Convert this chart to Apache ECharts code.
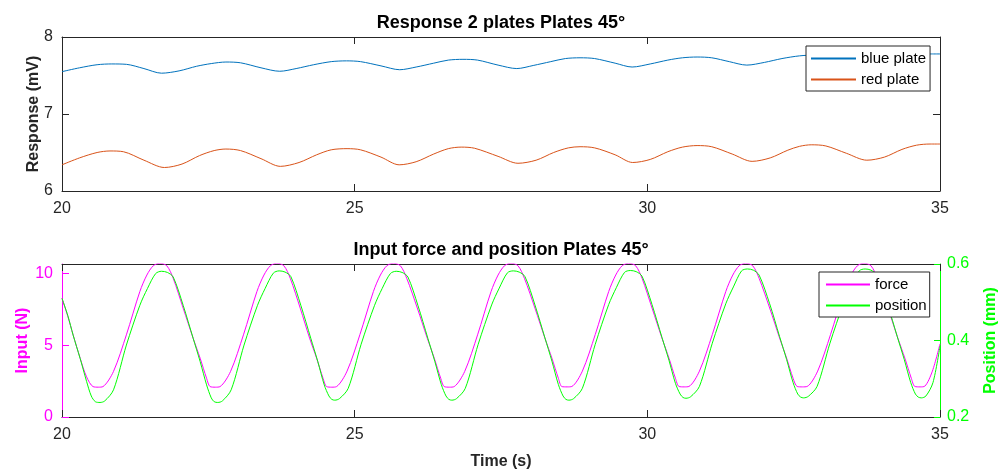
<!DOCTYPE html>
<html><head><meta charset="utf-8">
<script src="https://cdn.jsdelivr.net/npm/echarts@6/dist/echarts.min.js"></script>
<style>html,body{margin:0;padding:0;background:#fff}#c{width:1002px;height:473px}</style>
</head><body><div id="c"></div>
<script>
// ---- data ----
const xTicks = [20, 25, 30, 35];
const titles = ['Response 2 plates Plates 45\u00b0', 'Input force and position Plates 45\u00b0'];
const seriesNames = ['blue plate', 'red plate', 'force', 'position'];

const blueT = [20.00,20.30,20.60,20.85,21.10,21.40,21.70,22.00,22.30,22.55,22.80,23.05,23.40,23.72,24.00,24.30,24.60,24.86,25.10,25.45,25.77,26.05,26.35,26.60,26.85,27.10,27.45,27.77,28.05,28.35,28.60,28.85,29.10,29.45,29.74,30.05,30.35,30.60,30.85,31.10,31.40,31.70,32.00,32.30,32.60,32.85,33.10,33.40,33.70,34.00,34.30,34.60,34.85,35.00];
const blueV = [7.55,7.60,7.64,7.65,7.645,7.59,7.53,7.56,7.62,7.655,7.675,7.665,7.60,7.555,7.59,7.64,7.68,7.69,7.68,7.625,7.575,7.61,7.66,7.70,7.71,7.70,7.635,7.59,7.63,7.68,7.72,7.73,7.72,7.66,7.61,7.65,7.70,7.73,7.74,7.73,7.68,7.635,7.67,7.72,7.755,7.765,7.75,7.70,7.65,7.69,7.74,7.77,7.78,7.78];

const redT = [20.00,20.30,20.60,20.82,21.05,21.40,21.75,22.05,22.35,22.60,22.80,23.05,23.40,23.73,24.05,24.35,24.60,24.87,25.10,25.45,25.76,26.05,26.35,26.60,26.82,27.05,27.45,27.79,28.10,28.40,28.65,28.85,29.10,29.45,29.75,30.05,30.35,30.60,30.85,31.10,31.45,31.79,32.10,32.40,32.60,32.80,33.05,33.40,33.75,34.05,34.35,34.60,34.83,35.00];
const redV = [6.34,6.43,6.50,6.52,6.51,6.40,6.305,6.35,6.46,6.525,6.545,6.525,6.42,6.32,6.37,6.47,6.535,6.55,6.535,6.44,6.34,6.38,6.48,6.55,6.57,6.555,6.45,6.36,6.40,6.50,6.56,6.575,6.56,6.47,6.37,6.41,6.51,6.57,6.59,6.575,6.48,6.385,6.43,6.53,6.58,6.60,6.585,6.49,6.40,6.44,6.54,6.595,6.61,6.61];

const forceT = [20.00,20.10,20.19,20.31,20.42,20.53,20.62,20.70,20.88,21.10,21.33,21.45,21.56,21.67,21.79,21.90,22.07,22.24,22.36,22.47,22.53,22.62,22.70,
22.88,23.10,23.33,23.45,23.56,23.67,23.79,23.90,24.07,24.23,24.35,24.46,24.52,24.61,24.69,
24.87,25.09,25.32,25.44,25.55,25.66,25.78,25.89,26.07,26.24,26.36,26.47,26.53,26.62,26.70,
26.88,27.10,27.33,27.45,27.56,27.67,27.79,27.90,28.08,28.25,28.37,28.48,28.54,28.63,28.71,
28.89,29.11,29.34,29.46,29.57,29.68,29.80,29.91,30.08,30.25,30.37,30.48,30.54,30.63,30.71,
30.89,31.11,31.34,31.46,31.57,31.68,31.80,31.91,32.09,32.26,32.38,32.49,32.56,32.65,32.73,
32.91,33.13,33.36,33.48,33.59,33.70,33.82,33.93,34.11,34.28,34.40,34.51,34.57,34.66,34.74,34.87,35.00];
const forceV = [8.28,7.00,5.73,4.10,2.80,2.12,2.08,2.12,3.18,5.73,8.75,9.90,10.55,10.72,10.55,9.67,7.59,5.50,4.10,2.70,2.12,2.08,2.12,
3.18,5.73,8.75,9.90,10.55,10.72,10.55,9.67,7.59,5.50,4.10,2.70,2.12,2.08,2.12,
3.20,5.75,8.75,9.90,10.55,10.72,10.55,9.67,7.60,5.50,4.10,2.70,2.12,2.08,2.12,
3.18,5.73,8.75,9.90,10.55,10.72,10.55,9.67,7.59,5.50,4.10,2.70,2.12,2.10,2.13,
3.20,5.75,8.75,9.90,10.55,10.72,10.55,9.67,7.60,5.50,4.10,2.70,2.13,2.10,2.13,
3.20,5.75,8.75,9.90,10.55,10.72,10.55,9.67,7.60,5.50,4.10,2.70,2.13,2.10,2.13,
3.20,5.75,8.75,9.90,10.55,10.72,10.55,9.67,7.60,5.50,4.10,2.70,2.13,2.10,2.15,3.20,5.10];

const posT = [20.00,20.10,20.19,20.31,20.42,20.50,20.57,20.65,20.73,20.88,21.10,21.33,21.46,21.60,21.70,21.80,21.90,22.07,22.24,22.36,22.47,22.55,22.60,22.66,22.74,
22.89,23.11,23.34,23.47,23.61,23.71,23.81,23.91,24.08,24.25,24.37,24.48,24.56,24.61,24.66,24.74,
24.89,25.11,25.34,25.47,25.61,25.71,25.81,25.91,26.08,26.25,26.37,26.48,26.56,26.61,26.66,26.74,
26.89,27.11,27.34,27.47,27.61,27.71,27.81,27.91,28.08,28.25,28.37,28.48,28.56,28.61,28.66,28.74,
28.89,29.11,29.34,29.47,29.61,29.71,29.81,29.91,30.08,30.25,30.37,30.48,30.56,30.61,30.66,30.74,
30.89,31.11,31.34,31.47,31.61,31.71,31.81,31.91,32.09,32.26,32.38,32.49,32.57,32.62,32.67,32.75,
32.90,33.12,33.35,33.48,33.62,33.72,33.82,33.92,34.10,34.27,34.39,34.50,34.58,34.63,34.68,34.76,34.88,35.00];
const posV = [0.510,0.465,0.414,0.353,0.293,0.255,0.240,0.238,0.242,0.271,0.388,0.492,0.536,0.575,0.581,0.578,0.566,0.492,0.406,0.345,0.284,0.250,0.240,0.238,0.242,
0.271,0.388,0.492,0.536,0.576,0.582,0.579,0.567,0.492,0.406,0.345,0.284,0.255,0.246,0.244,0.248,
0.275,0.390,0.492,0.536,0.575,0.581,0.578,0.566,0.492,0.406,0.345,0.285,0.255,0.246,0.244,0.248,
0.275,0.390,0.493,0.537,0.577,0.582,0.579,0.567,0.493,0.407,0.346,0.285,0.255,0.246,0.244,0.248,
0.275,0.390,0.494,0.538,0.578,0.583,0.580,0.568,0.494,0.408,0.348,0.288,0.260,0.251,0.249,0.253,
0.280,0.393,0.496,0.540,0.582,0.587,0.584,0.571,0.496,0.410,0.350,0.290,0.260,0.252,0.250,0.254,
0.280,0.393,0.496,0.540,0.582,0.587,0.584,0.571,0.496,0.410,0.350,0.290,0.260,0.252,0.250,0.255,0.290,0.385];

const respTicks = [6, 7, 8];
const inputTicks = [0, 5, 10];
const posTicks = [0.2, 0.4, 0.6];
const inputMax = 10.67;

// ---- build ----
const zip = (t, v) => t.map((x, i) => [x, v[i]]);
const FONT = "'Liberation Sans', Arial, Helvetica, sans-serif";
const AX = '#262626';
const PINK = '#FF00FF', GREEN = '#00FF00';

function xAx(grid, pos, labels, name) {
  return {
    type: 'value', gridIndex: grid, position: pos, min: xTicks[0], max: xTicks[xTicks.length - 1], interval: 5,
    axisLine: { show: true, lineStyle: { color: AX, width: 1 } },
    axisTick: { show: true, inside: true, length: 7, lineStyle: { color: AX } },
    axisLabel: { show: labels, fontSize: 16, color: AX, margin: 10, fontFamily: FONT, showMinLabel: true, showMaxLabel: true },
    splitLine: { show: false },
    name: name || '', nameLocation: 'middle', nameGap: 37, nameMoveOverlap: false,
    nameTextStyle: { fontSize: 16, fontWeight: 'bold', color: AX, fontFamily: FONT }
  };
}

function legendOf(names, left, top, iw, pad) {
  return {
    data: names, orient: 'vertical', left: left, top: top,
    itemWidth: iw, itemHeight: 14, itemGap: 6, padding: pad,
    borderColor: AX, borderWidth: 1, backgroundColor: '#fff', borderRadius: 0,
    itemStyle: { opacity: 0 },
    textStyle: { fontSize: 15, color: '#000', fontFamily: FONT }
  };
}

const option = {
  animation: false,
  backgroundColor: '#fff',
  textStyle: { fontFamily: FONT },
  title: [
    { text: titles[0], left: 'center', top: 9, textStyle: { fontSize: 18, fontWeight: 'bold', color: '#000', fontFamily: FONT } },
    { text: titles[1], left: 'center', top: 236, textStyle: { fontSize: 18, fontWeight: 'bold', color: '#000', fontFamily: FONT } }
  ],
  grid: [
    { left: 62, right: 62, top: 37, height: 154, containLabel: false, outerBoundsMode: 'none' },
    { left: 62, right: 62, top: 264, height: 153, containLabel: false, outerBoundsMode: 'none' }
  ],
  legend: [
    legendOf([seriesNames[0], seriesNames[1]], 806, 46, 45, [5, 4, 4, 4]),
    legendOf([seriesNames[2], seriesNames[3]], 819, 272, 44, [5, 3, 4, 6])
  ],
  xAxis: [
    xAx(0, 'bottom', true),
    xAx(0, 'top', false),
    xAx(1, 'bottom', true, 'Time (s)'),
    xAx(1, 'top', false)
  ],
  yAxis: [
    { type: 'value', gridIndex: 0, position: 'left', min: respTicks[0], max: respTicks[2], interval: 1,
      axisLine: { show: true, lineStyle: { color: AX } },
      axisTick: { show: true, inside: true, length: 7, lineStyle: { color: AX } },
      axisLabel: { fontSize: 16, color: AX, margin: 9, fontFamily: FONT },
      splitLine: { show: false },
      name: 'Response (mV)', nameLocation: 'middle', nameGap: 20, nameMoveOverlap: false,
      nameTextStyle: { fontSize: 16, fontWeight: 'bold', color: AX, fontFamily: FONT } },
    { type: 'value', gridIndex: 0, position: 'right', min: respTicks[0], max: respTicks[2], interval: 1,
      axisLine: { show: true, lineStyle: { color: AX } },
      axisTick: { show: true, inside: true, length: 7, lineStyle: { color: AX } },
      axisLabel: { show: false }, splitLine: { show: false } },
    { type: 'value', gridIndex: 1, position: 'left', min: 0, max: inputMax, interval: 5,
      axisLine: { show: true, lineStyle: { color: PINK } },
      axisTick: { show: true, inside: true, length: 7, lineStyle: { color: PINK }, customValues: inputTicks },
      axisLabel: { fontSize: 16, color: PINK, margin: 9, fontFamily: FONT, customValues: inputTicks },
      splitLine: { show: false },
      name: 'Input (N)', nameLocation: 'middle', nameGap: 31, nameMoveOverlap: false,
      nameTextStyle: { fontSize: 16, fontWeight: 'bold', color: PINK, fontFamily: FONT } },
    { type: 'value', gridIndex: 1, position: 'right', min: posTicks[0], max: posTicks[2], interval: 0.2,
      axisLine: { show: true, lineStyle: { color: GREEN } },
      axisTick: { show: true, inside: true, length: 6, lineStyle: { color: GREEN } },
      axisLabel: { fontSize: 16, color: GREEN, margin: 7, fontFamily: FONT, formatter: v => v.toFixed(1) },
      splitLine: { show: false },
      name: 'Position (mm)', nameLocation: 'middle', nameGap: 43, nameMoveOverlap: false,
      nameTextStyle: { fontSize: 16, fontWeight: 'bold', color: GREEN, fontFamily: FONT } }
  ],
  series: [
    { name: seriesNames[0], type: 'line', xAxisIndex: 0, yAxisIndex: 0, data: zip(blueT, blueV),
      symbol: 'none', smooth: 0.3, lineStyle: { width: 1, color: '#0072BD' }, itemStyle: { color: '#0072BD' } },
    { name: seriesNames[1], type: 'line', xAxisIndex: 0, yAxisIndex: 0, data: zip(redT, redV),
      symbol: 'none', smooth: 0.3, lineStyle: { width: 1, color: '#D95319' }, itemStyle: { color: '#D95319' } },
    { name: seriesNames[2], type: 'line', xAxisIndex: 2, yAxisIndex: 2, data: zip(forceT, forceV),
      symbol: 'none', smooth: 0.3, clip: true, lineStyle: { width: 1, color: PINK }, itemStyle: { color: PINK } },
    { name: seriesNames[3], type: 'line', xAxisIndex: 2, yAxisIndex: 3, data: zip(posT, posV),
      symbol: 'none', smooth: 0.3, clip: true, lineStyle: { width: 1, color: GREEN }, itemStyle: { color: GREEN } }
  ]
};
const chart = echarts.init(document.getElementById('c'), null, { renderer: 'canvas' });
chart.setOption(option);
</script>
</body></html>
